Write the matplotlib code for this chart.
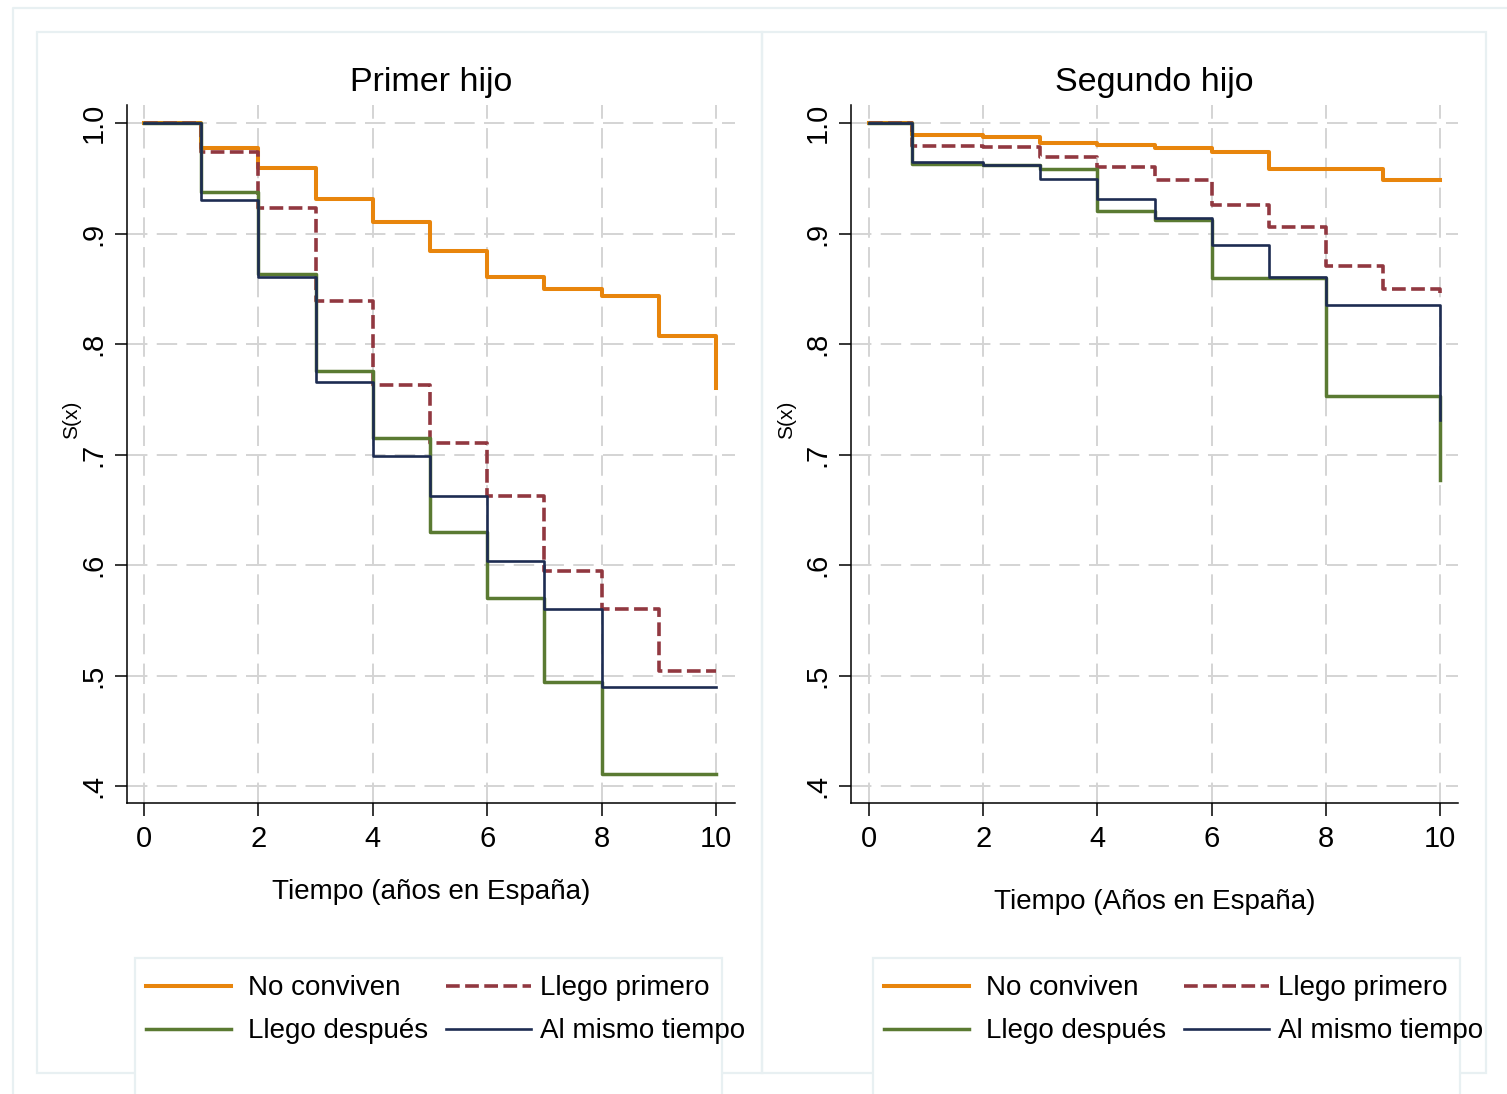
import matplotlib
matplotlib.use("Agg")
import matplotlib.pyplot as plt
from matplotlib.patches import Rectangle
from matplotlib.lines import Line2D

plt.rcParams['font.family'] = ['Liberation Sans', 'DejaVu Sans']

# Kaplan-Meier estimates, years in Spain
t_primer = [0, 1, 2, 3, 4, 5, 6, 7, 8, 9, 10]
primer_no_conviven = [1.0, 0.977, 0.959, 0.931, 0.910, 0.884, 0.861, 0.850, 0.843, 0.807, 0.760]
primer_llego_primero = [1.0, 0.974, 0.923, 0.839, 0.763, 0.710, 0.662, 0.595, 0.560, 0.504, 0.504]
primer_llego_despues = [1.0, 0.938, 0.863, 0.776, 0.715, 0.630, 0.570, 0.494, 0.411, 0.411, 0.411]
primer_mismo_tiempo = [1.0, 0.930, 0.861, 0.766, 0.699, 0.662, 0.604, 0.560, 0.490, 0.490, 0.490]

t_segundo = [0, 0.75, 2, 3, 4, 5, 6, 7, 8, 9, 10]
segundo_no_conviven = [1.0, 0.989, 0.987, 0.982, 0.980, 0.977, 0.974, 0.958, 0.958, 0.948, 0.948]
segundo_llego_primero = [1.0, 0.979, 0.978, 0.969, 0.960, 0.948, 0.926, 0.906, 0.871, 0.850, 0.843]
segundo_llego_despues = [1.0, 0.963, 0.962, 0.958, 0.920, 0.912, 0.860, 0.860, 0.753, 0.753, 0.677]
segundo_mismo_tiempo = [1.0, 0.965, 0.962, 0.949, 0.931, 0.914, 0.890, 0.861, 0.835, 0.835, 0.731]

labels = ["No conviven", "Llego primero", "Llego después", "Al mismo tiempo"]
titles = ["Primer hijo", "Segundo hijo"]
xlabels = ["Tiempo (años en España)", "Tiempo (Años en España)"]
yticks = [0.4, 0.5, 0.6, 0.7, 0.8, 0.9, 1.0]
yticklabels = [".4", ".5", ".6", ".7", ".8", ".9", "1.0"]
xticks = [0, 2, 4, 6, 8, 10]

# line styles in the same order as labels
colors = ["#E8850C", "#913840", "#5A7A32", "#1D2C52"]
widths = [2.9, 2.6, 2.5, 1.9]
styles = ["-", (0, (3.8, 1.5)), "-", "-"]

W, H = 1507, 1094
fig = plt.figure(figsize=(W / 100, H / 100), dpi=100)


def fx(x):
    return x / W


def fy(y):
    return 1 - y / H


frame = "#E8F0F2"
# outer frame and the two panel boxes
fig.add_artist(Line2D([fx(13), fx(13), fx(W)], [fy(H), fy(8), fy(8)],
                      transform=fig.transFigure, color=frame, lw=1.6))
for x0, x1 in [(37, 762), (762, 1486)]:
    fig.add_artist(Rectangle((fx(x0), fy(1073)), fx(x1 - x0), (1073 - 32) / H,
                             transform=fig.transFigure, fill=False,
                             edgecolor=frame, lw=1.6))

panels = [
    dict(t=t_primer,
         s=[primer_no_conviven, primer_llego_primero, primer_llego_despues, primer_mismo_tiempo],
         left=127, right=735, x0=144, x10=716, ylab_x=72, xlab_y=892, leg=135),
    dict(t=t_segundo,
         s=[segundo_no_conviven, segundo_llego_primero, segundo_llego_despues, segundo_mismo_tiempo],
         left=851, right=1458, x0=869, x10=1440, ylab_x=787, xlab_y=902, leg=873),
]

top, bottom = 105, 803
y1, y4 = 123, 786
for i, p in enumerate(panels):
    ax = fig.add_axes([fx(p['left']), fy(bottom), fx(p['right'] - p['left']), (bottom - top) / H])
    ppu = (p['x10'] - p['x0']) / 10
    ax.set_xlim(-(p['x0'] - p['left']) / ppu, 10 + (p['right'] - p['x10']) / ppu)
    ppy = (y4 - y1) / 0.6
    ax.set_ylim(0.4 - (bottom - y4) / ppy, 1.0 + (y1 - top) / ppy)

    for s, c, lw, ls in zip(p['s'], colors, widths, styles):
        ax.step(p['t'], s, where='post', color=c, lw=lw, linestyle=ls, zorder=3)

    ax.set_xticks(xticks)
    ax.set_xticklabels([str(v) for v in xticks], fontsize=21)
    ax.set_yticks(yticks)
    ax.set_yticklabels(yticklabels, fontsize=21, rotation=90, va='center')
    ax.tick_params(axis='both', length=9, width=1.1, color='black')
    ax.tick_params(axis='x', pad=7)
    ax.tick_params(axis='y', pad=5)
    ax.grid(True, color='#D4D4D4', lw=1.4, linestyle=(0, (10.5, 4.8)))
    ax.set_axisbelow(True)
    for side in ['top', 'right']:
        ax.spines[side].set_visible(False)
    for side in ['left', 'bottom']:
        ax.spines[side].set_linewidth(1.1)

    cx = (p['left'] + p['right']) / 2
    fig.text(fx(cx), fy(82), titles[i], fontsize=24.5, ha='center', va='center')
    fig.text(fx(cx), fy(p['xlab_y']), xlabels[i], fontsize=20, ha='center', va='center')
    fig.text(fx(p['ylab_x']), fy(420), "S(x)", fontsize=15, rotation=90,
             ha='center', va='center')

    # legend box, cut off at the bottom of the figure
    lx = p['leg']
    fig.add_artist(Rectangle((fx(lx), fy(1120)), fx(587), (1120 - 958) / H,
                             transform=fig.transFigure, facecolor='white',
                             edgecolor=frame, lw=1.6, zorder=5))
    keys = [(0, 986), (1, 986), (2, 1029), (3, 1029)]
    for k, ky in keys:
        col = k % 2
        kx = lx + 11 + col * 300
        tx = lx + 113 + col * 292
        fig.add_artist(Line2D([fx(kx), fx(kx + 85)], [fy(ky), fy(ky)],
                              transform=fig.transFigure, color=colors[k],
                              lw=widths[k], linestyle=styles[k], zorder=6))
        fig.text(fx(tx), fy(ky + 2), labels[k], fontsize=20, ha='left', va='center', zorder=6)

fig.savefig("out.png", dpi=100)
